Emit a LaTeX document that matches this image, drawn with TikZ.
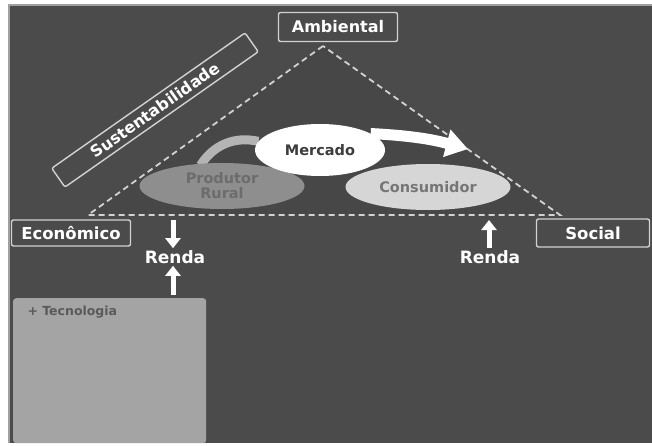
\documentclass[tikz,border=0pt]{standalone}
\usepackage{fontspec}
\setmainfont{DejaVu Sans}
\usetikzlibrary{arrows.meta,shapes.geometric}

\definecolor{bgdark}{HTML}{4B4B4B}
\definecolor{bgtri}{HTML}{474747}
\definecolor{framegray}{HTML}{A0A0A0}
\definecolor{boxline}{HTML}{D2D2D2}
\definecolor{techfill}{HTML}{A4A4A4}
\definecolor{techtext}{HTML}{5A5A5A}
\definecolor{prodfill}{HTML}{8E8E8E}
\definecolor{prodtext}{HTML}{6C6C6C}
\definecolor{consfill}{HTML}{D6D6D6}
\definecolor{constext}{HTML}{767676}
\definecolor{merctext}{HTML}{3C3C3C}
\definecolor{arcgray}{HTML}{B4B4B4}

\begin{document}
\begin{tikzpicture}[x=1pt, y=-1pt, >=Triangle]
        \tikzset{%
         every tag/.style={
            draw=boxline,
            line width=1.4pt,
            rounded corners=2pt,
            fill=bgdark,
            text=white,
            inner sep=0pt,
            font=\fontsize{16}{16}\selectfont\bfseries},
        oval/.style={
            ellipse,
            inner sep=0pt,
            align=center,
            font=\fontsize{14.5}{15}\selectfont\bfseries},
        renda/.style={
            text=white,
            inner sep=2pt,
            font=\fontsize{17}{17}\selectfont\bfseries},
        block arrow/.style={
            white,
            line width=5pt,
            -{Triangle[width=15pt,length=10pt]}},
        }

        \useasboundingbox (0,0) rectangle (652,446);
        \fill [white] (0,0) rectangle (652,446);
        \fill [bgdark] (9,5) rectangle (652,443);
        \draw [framegray, line width=2pt] (9,443) -- (9,5) -- (652,5);

        % triangle
        \coordinate (apex) at (323,46);
        \coordinate (base-l) at (88,215);
        \coordinate (base-r) at (560,215);
        \fill [bgtri] (apex) -- (base-l) -- (base-r) -- cycle;
        \draw [boxline, line width=1.8pt, dash pattern=on 6pt off 4pt]
            (apex) -- (base-l) -- (base-r) -- cycle;

        \node [every tag, minimum width=119pt, minimum height=29pt] (ambiental) at (338,27) {Ambiental};
        \node [every tag, minimum width=119pt, minimum height=26pt, font=\fontsize{16.5}{16}\selectfont\bfseries] (economico) at (71,233) {Econômico};
        \node [every tag, minimum width=113pt, minimum height=28pt, font=\fontsize{16.5}{16}\selectfont\bfseries] (social) at (593,233) {Social};
        \node [every tag, rotate=35, minimum width=236pt, minimum height=23pt] (sustent) at (155,110) {Sustentabilidade};

        % market cycle
        \node [oval, minimum width=130pt, minimum height=52pt] (mercado-bg) at (320,150) {};
        \draw [arcgray, line width=9pt] (mercado-bg.172) to[bend right=35] ++(-58,24) coordinate (arc-end);
        \node [oval, fill=prodfill, text=prodtext, minimum width=165pt, minimum height=46pt] (produtor) at (222,186) {Produtor\\Rural};
        \node [oval, fill=white, text=merctext, minimum width=130pt, minimum height=52pt] (mercado) at (320,150) {Mercado};
        \coordinate (tip-m) at (468,149);
        \draw [white, line width=11pt, -{Triangle[width=27pt,length=22pt]}] (mercado.18) to[bend left=6] (tip-m);
        \node [oval, fill=consfill, text=constext, minimum width=165pt, minimum height=46pt] (consumidor) at (428,187) {Consumidor};

        % renda
        \node [renda] (renda-l) at (175,257) {Renda};
        \node [renda] (renda-r) at (490,257) {Renda};
        \coordinate (renda-l-in) at (173,220);
        \coordinate (renda-l-out) at (173,295);
        \coordinate (renda-r-top) at (489,220);
        \draw [block arrow] (renda-l-in) -- (renda-l-in |- renda-l.north);
        \draw [block arrow] (renda-l-out) -- (renda-l-out |- renda-l.south);
        \draw [block arrow] (renda-r-top |- renda-r.north) -- (renda-r-top);

        % tecnologia
        \node [fill=techfill, rounded corners=3pt, anchor=north west, minimum width=193pt, minimum height=145pt] (tecno) at (13,298) {};
        \node [anchor=west, text=techtext, font=\fontsize{12.5}{12.5}\selectfont\bfseries] (tecno-label) at (24,312) {+ Tecnologia};
\end{tikzpicture}
\end{document}
